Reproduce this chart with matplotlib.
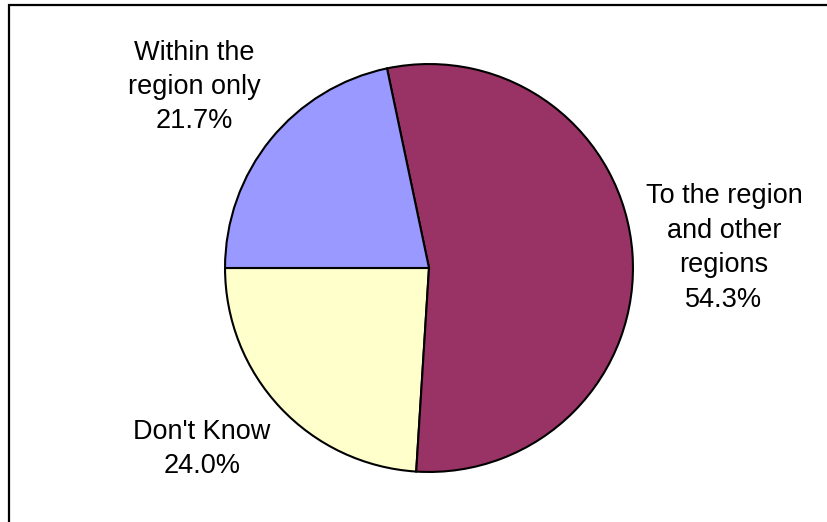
import matplotlib.pyplot as plt
import matplotlib.patches as patches

# slice data, drawn counter-clockwise starting from 9 o'clock
labels = ["Don't Know", "To the region\nand other\nregions", "Within the\nregion only"]
shares = [24.0, 54.3, 21.7]
colors = ["#FFFFCC", "#993366", "#9999FF"]

W, H = 827, 522
fig = plt.figure(figsize=(W / 100, H / 100), dpi=100)
plt.rcParams['font.family'] = ['Liberation Sans', 'DejaVu Sans']

# outer chart frame (runs off the right and bottom edges)
frame = patches.Rectangle((9 / W, -0.05), 1.1, (H - 5) / H + 0.05,
                          transform=fig.transFigure, fill=False,
                          edgecolor='black', linewidth=1.6)
fig.patches.append(frame)

# pie area: centre (429, 268), radius 206 in pixels
cx, cy, r = 429, 268, 206
ax = fig.add_axes([(cx - r) / W, (H - cy - r) / H, 2 * r / W, 2 * r / H])
ax.pie(shares, colors=colors, startangle=180, counterclock=True,
       wedgeprops=dict(edgecolor='black', linewidth=1.5))
ax.set_xlim(-1.01, 1.01)
ax.set_ylim(-1.01, 1.01)
ax.set_aspect('equal')
ax.axis('off')

# data labels placed outside the pie
label_pos = [(202, 449), (724, 248), (194, 87)]
for (px, py), lab, val in zip(label_pos, labels, shares):
    fig.text(px / W, 1 - py / H, f"{lab}\n{val:.1f}%", ha='center', va='center',
             fontsize=19.5, linespacing=1.42, color='black')

fig.savefig("out.png", dpi=100)
